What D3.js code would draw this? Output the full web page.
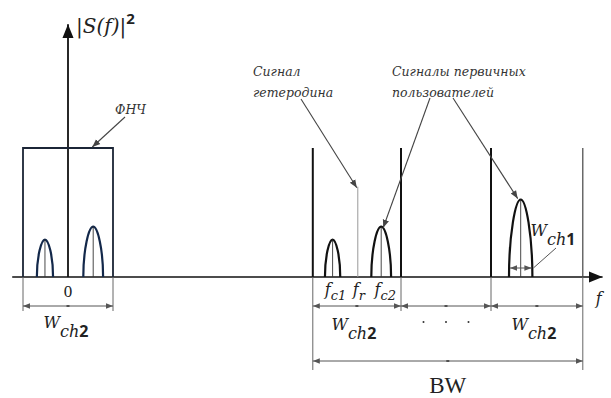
<!DOCTYPE html>
<html>
<head>
<meta charset="utf-8">
<title></title>
<style>
  body { margin: 0; background: #fff; }
  text { fill: #222; }
</style>
</head>
<body>
<div class="chart"></div>
<script src="https://cdn.jsdelivr.net/npm/d3@7"></script>
<script type="text/javascript">
// frequency axis, in channel widths (0 = DC)
var lpfEdges     = [-0.5, 0.5];
var channelEdges = [2.72, 3.7, 4.7, 5.72];
var heterodyne   = 3.22;      // f_r
var heterodyneLevel = 0.7;

// signal bumps: centre, half width, height (1 = filter height)
var bumpNames   = ["lpf1", "lpf2", "fc1", "fc2", "ch1"];
var bumpCenters = [-0.256, 0.28, 2.94, 3.48, 5.03];
var bumpHalfW   = [0.09, 0.11, 0.085, 0.11, 0.13];
var bumpHeights = [0.29, 0.39, 0.29, 0.39, 0.6];

var axisStart = -0.62, axisEnd = 5.94, yAxisTop = 1.96;

var width = 611, height = 398;
var x = d3.scaleLinear().domain([0, 1]).range([68, 158]);
var y = d3.scaleLinear().domain([0, 1]).range([277, 148]);

var svg = d3.select(".chart").append("svg")
	.attr("width", width).attr("height", height);

var defs = svg.append("defs");
function marker(id, size, color) {
	defs.append("marker").attr("id", id)
		.attr("viewBox", "0 0 10 10").attr("refX", 10).attr("refY", 5)
		.attr("markerWidth", size).attr("markerHeight", size)
		.attr("markerUnits", "userSpaceOnUse")
		.attr("orient", "auto-start-reverse")
		.append("path").attr("d", "M0,1L10,5L0,9Z").attr("fill", color);
}
marker("axisArrow", 14, "#111");
marker("dimArrow", 7, "#555");
marker("leadArrow", 8, "#444");

// frequency axis
svg.append("line")
	.attr("x1", x(axisStart)).attr("y1", y(0))
	.attr("x2", x(axisEnd)).attr("y2", y(0))
	.attr("stroke", "#111").attr("stroke-width", 1.6)
	.attr("marker-end", "url(#axisArrow)");
// power axis
svg.append("line")
	.attr("x1", x(0)).attr("y1", y(0))
	.attr("x2", x(0)).attr("y2", y(yAxisTop))
	.attr("stroke", "#111").attr("stroke-width", 1.8)
	.attr("marker-end", "url(#axisArrow)");

// low-pass filter box
svg.append("path")
	.attr("d", "M" + x(lpfEdges[0]) + "," + y(0) + "V" + y(1) + "H" + x(lpfEdges[1]) + "V" + y(0))
	.attr("fill", "none").attr("stroke", "#1b2536").attr("stroke-width", 1.8);

// channel boundaries
svg.selectAll(".edge").data(channelEdges).enter().append("line")
	.attr("class", "edge")
	.attr("x1", function(d) { return x(d); }).attr("x2", function(d) { return x(d); })
	.attr("y1", y(0)).attr("y2", y(1))
	.attr("stroke", function(d, i) { return i == 3 ? "#444" : "#111"; })
	.attr("stroke-width", function(d, i) { return i == 3 ? 1.2 : 2; });

// heterodyne line
svg.append("line")
	.attr("x1", x(heterodyne)).attr("x2", x(heterodyne))
	.attr("y1", y(0)).attr("y2", y(heterodyneLevel))
	.attr("stroke", "#999").attr("stroke-width", 1);

// bumps
var bumps = bumpNames.map(function(n, i) {
	return { name: n, c: bumpCenters[i], w: bumpHalfW[i], h: bumpHeights[i] };
});
function bumpPath(b) {
	var p = d3.path();
	var l = x(b.c - b.w), r = x(b.c + b.w), m = x(b.c), top = y(b.h), base = y(0);
	p.moveTo(l, base);
	p.bezierCurveTo(l, y(b.h * 0.55), m - (m - l) * 0.45, top, m, top);
	p.bezierCurveTo(m + (r - m) * 0.45, top, r, y(b.h * 0.55), r, base);
	return p.toString();
}
var bg = svg.selectAll(".bump").data(bumps).enter().append("g").attr("class", "bump");
bg.append("path").attr("d", bumpPath)
	.attr("fill", "none")
	.attr("stroke", function(d, i) { return i < 2 ? "#13284a" : "#111"; })
	.attr("stroke-width", 2.2);
bg.append("line")
	.attr("x1", function(d) { return x(d.c); }).attr("x2", function(d) { return x(d.c); })
	.attr("y1", function(d) { return y(d.h); }).attr("y2", y(0))
	.attr("stroke", "#333").attr("stroke-width", 0.9);

// width arrow inside the ch1 bump
var b5 = bumps[4];
svg.append("line")
	.attr("x1", x(b5.c - b5.w) + 1).attr("x2", x(b5.c + b5.w) - 1)
	.attr("y1", 268).attr("y2", 268)
	.attr("stroke", "#555").attr("stroke-width", 1)
	.attr("marker-start", "url(#dimArrow)").attr("marker-end", "url(#dimArrow)");

// extension and dimension lines
function extension(fx, yEnd) {
	svg.append("line")
		.attr("x1", x(fx)).attr("x2", x(fx))
		.attr("y1", y(0)).attr("y2", yEnd)
		.attr("stroke", "#666").attr("stroke-width", 1);
}
function dimension(a, b, yy) {
	svg.append("line")
		.attr("x1", x(a)).attr("x2", x(b))
		.attr("y1", yy).attr("y2", yy)
		.attr("stroke", "#555").attr("stroke-width", 1)
		.attr("marker-start", "url(#dimArrow)").attr("marker-end", "url(#dimArrow)");
	svg.append("line")
		.attr("x1", x((a + b) / 2) - 1.5).attr("x2", x((a + b) / 2) + 1.5)
		.attr("y1", yy).attr("y2", yy)
		.attr("stroke", "#333").attr("stroke-width", 1.5);
}
extension(lpfEdges[0], 311);
extension(lpfEdges[1], 311);
dimension(lpfEdges[0], lpfEdges[1], 306);
channelEdges.forEach(function(e, i) {
	extension(e, (i == 0 || i == channelEdges.length - 1) ? 370 : 311);
});
for (var i = 0; i < channelEdges.length - 1; i++) dimension(channelEdges[i], channelEdges[i + 1], 306);
dimension(channelEdges[0], channelEdges[channelEdges.length - 1], 361);

// text helpers
var serif = "'DejaVu Serif', 'Liberation Serif', serif";
var tserif = "'Liberation Serif', 'DejaVu Serif', serif";
function wLabel(cx, by, sub) {
	var t = svg.append("text").attr("x", cx).attr("y", by)
		.attr("text-anchor", "middle").style("font-family", serif).style("font-size", "16px");
	t.append("tspan").style("font-style", "italic").text("W");
	t.append("tspan").attr("dy", 9).style("font-style", "italic").text("ch");
	t.append("tspan").style("font-family", "'Open Sans', sans-serif").style("font-weight", "bold")
		.style("font-size", "16px").text(sub);
}
function fLabel(cx, by, sub) {
	var t = svg.append("text").attr("x", cx).attr("y", by)
		.attr("text-anchor", "middle").style("font-family", serif).style("font-size", "16px");
	t.append("tspan").style("font-style", "italic").text("f");
	if (sub) t.append("tspan").attr("dy", 5).style("font-size", "13px").style("font-style", "italic").text(sub);
}

// |S(f)|^2
var st = svg.append("text").attr("x", x(0) + 8).attr("y", 33)
	.style("font-family", serif).style("font-size", "20px");
st.append("tspan").text("|");
st.append("tspan").style("font-style", "italic").text("S(f)");
st.append("tspan").text("|");
st.append("tspan").attr("dy", -9).style("font-family", "'Open Sans', sans-serif")
	.style("font-weight", "bold").style("font-size", "15px").text("2");

svg.append("text").attr("x", x(0)).attr("y", 297).attr("text-anchor", "middle")
	.style("font-family", tserif).style("font-size", "17px").text("0");

wLabel(x(0) - 2, 328, "2");
wLabel(x((channelEdges[0] + channelEdges[1]) / 2) - 3, 330, "2");
wLabel(x((channelEdges[2] + channelEdges[3]) / 2) - 3, 330, "2");
wLabel(553, 236, "1");

fLabel(x(bumpCenters[2]) + 3, 295, "c1");
fLabel(x(heterodyne) + 1, 295, "r");
fLabel(x(bumpCenters[3]) + 4, 295, "c2");
fLabel(x(axisEnd) - 4, 304, null);

svg.selectAll(".dot").data([0.25, 0.5, 0.75]).enter().append("circle")
	.attr("cx", function(d) { return x(channelEdges[1] + (channelEdges[2] - channelEdges[1]) * d); })
	.attr("cy", 322).attr("r", 1).attr("fill", "#333");

svg.append("text").attr("x", x((channelEdges[0] + channelEdges[3]) / 2)).attr("y", 393)
	.attr("text-anchor", "middle").style("font-family", tserif).style("font-size", "23px").text("BW");

// annotations
function note(lines, tx, ty) {
	var t = svg.append("text").attr("x", tx).attr("y", ty)
		.style("font-family", serif).style("font-style", "italic").style("font-size", "12.5px").style("fill", "#333");
	lines.forEach(function(s, i) {
		t.append("tspan").attr("x", tx).attr("dy", i ? 21 : 0).text(s);
	});
}
function leader(x1, y1, x2, y2) {
	svg.append("line").attr("x1", x1).attr("y1", y1).attr("x2", x2).attr("y2", y2)
		.attr("stroke", "#444").attr("stroke-width", 1.1)
		.attr("marker-end", "url(#leadArrow)");
}
note(["ФНЧ"], 115, 114);
leader(125, 117, x(0.27), y(1) - 1);

note(["Сигнал", "гетеродина"], 253, 76);
leader(301, 99, x(heterodyne) - 1, y(heterodyneLevel) + 1);

note(["Сигналы первичных", "пользователей"], 392, 76);
leader(430, 98, x(bumpCenters[3]) + 2, y(bumpHeights[3]) + 1);
leader(453, 98, x(bumpCenters[4]) - 3, y(bumpHeights[4]) - 1);

svg.append("line").attr("x1", 556).attr("y1", 248)
	.attr("x2", x(b5.c + b5.w) + 1).attr("y2", 268)
	.attr("stroke", "#555").attr("stroke-width", 1);
</script>
</body>
</html>
